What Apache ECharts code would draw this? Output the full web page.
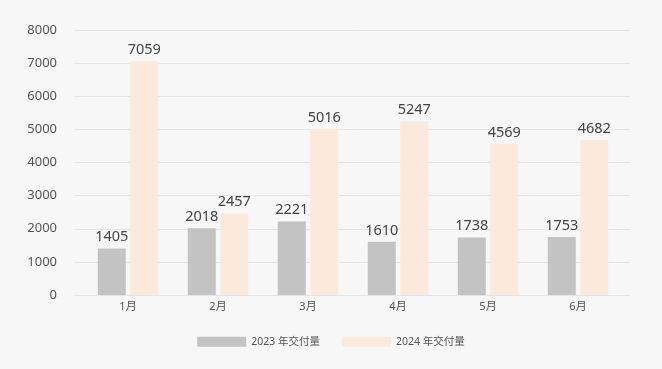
<!DOCTYPE html>
<html><head><meta charset="utf-8">
<script src="https://cdn.jsdelivr.net/npm/echarts@6/dist/echarts.min.js"></script>
<style>html,body{margin:0;padding:0;background:#f7f7f7;}#c{width:662px;height:369px;}</style>
</head><body><div id="c"></div>
<script>
const categories = ['1月','2月','3月','4月','5月','6月'];
const seriesNames = ['2023 年交付量','2024 年交付量'];
const values2023 = [1405, 2018, 2221, 1610, 1738, 1753];
const values2024 = [7059, 2457, 5016, 5247, 4569, 4682];
const yTicks = [0,1000,2000,3000,4000,5000,6000,7000,8000];

const font = "'Noto Sans', 'Noto Sans CJK SC', sans-serif";
const chart = echarts.init(document.getElementById('c'));
chart.setOption({
  backgroundColor: '#f7f7f7',
  animation: false,
  textStyle: {fontFamily: font},
  legend: {
    bottom: 17, left: 'center',
    itemWidth: 49, itemHeight: 10, itemGap: 22,
    icon: 'rect',
    data: seriesNames,
    textStyle: {color: '#555', fontSize: 10.5, fontFamily: font}
  },
  grid: [
    {left: 75, right: 32, top: 30, bottom: 74},
    {left: 83, right: 39, top: 30, bottom: 74}
  ],
  xAxis: [
    {gridIndex: 0, type: 'category', data: categories, show: false},
    {gridIndex: 1, type: 'category', data: categories,
     axisLine: {show: false}, axisTick: {show: false},
     axisLabel: {color: '#555', fontSize: 11, margin: 6}}
  ],
  yAxis: [
    {gridIndex: 0, type: 'value', min: yTicks[0], max: yTicks[yTicks.length-1], interval: 1000,
     axisLine: {show: false}, axisTick: {show: false},
     axisLabel: {color: '#555', fontSize: 13, margin: 18, formatter: v => String(v)},
     splitLine: {lineStyle: {color: '#e4e4e4', width: 1}}},
    {gridIndex: 1, type: 'value', min: yTicks[0], max: yTicks[yTicks.length-1], interval: 1000, show: false,
     splitLine: {show: false}}
  ],
  series: [
    {name: seriesNames[0], type: 'bar', xAxisIndex: 1, yAxisIndex: 1, data: values2023,
     barWidth: 28, barGap: '16%', itemStyle: {color: '#c3c3c3'},
     label: {show: true, position: 'top', distance: 4, color: '#444', fontSize: 14.5, fontFamily: font}},
    {name: seriesNames[1], type: 'bar', xAxisIndex: 1, yAxisIndex: 1, data: values2024,
     barWidth: 28, barGap: '16%', itemStyle: {color: '#fbeadb'},
     label: {show: true, position: 'top', distance: 4, color: '#444', fontSize: 14.5, fontFamily: font}}
  ]
});
</script></body></html>
